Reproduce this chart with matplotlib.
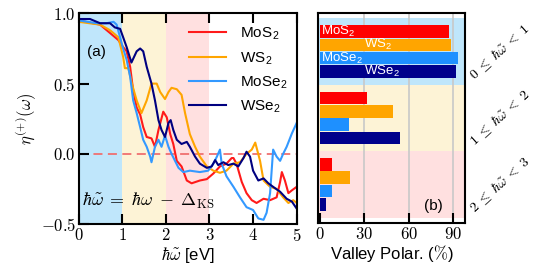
import numpy as np
import matplotlib
matplotlib.use("Agg")
import matplotlib.pyplot as plt

plt.rcParams['font.family'] = ['Liberation Sans', 'DejaVu Sans']
plt.rcParams['mathtext.fontset'] = 'cm'

# ---- panel (a) data ----
mos2_x = [0.0, 0.49, 0.72, 0.91, 1.02, 1.1, 1.18, 1.25, 1.33, 1.41, 1.48, 1.56, 1.67, 1.75, 1.83, 1.94,
          2.02, 2.1, 2.17, 2.25, 2.36, 2.48, 2.59, 2.78, 2.94, 3.09, 3.24, 3.39, 3.51, 3.55, 3.62, 3.74,
          3.85, 3.97, 4.08, 4.24, 4.39, 4.54, 4.62, 4.66, 4.73, 4.81, 4.89, 5.0]
mos2_y = [0.95, 0.92, 0.86, 0.81, 0.76, 0.73, 0.62, 0.45, 0.33, 0.28, 0.19, 0.12, 0.11, 0.05, 0.17, 0.30,
          0.26, 0.14, 0.07, -0.05, -0.09, -0.19, -0.21, -0.19, -0.18, -0.14, -0.09, -0.07, -0.03, -0.03, -0.07, -0.20,
          -0.28, -0.33, -0.35, -0.32, -0.33, -0.31, -0.20, -0.13, -0.19, -0.28, -0.26, -0.235]

ws2_x = [0.0, 0.49, 0.72, 0.91, 1.02, 1.06, 1.14, 1.22, 1.33, 1.44, 1.56, 1.67, 1.79, 1.87, 1.98, 2.06,
         2.13, 2.25, 2.36, 2.44, 2.55, 2.67, 2.78, 2.94, 3.09, 3.24, 3.39, 3.55, 3.7, 3.85, 3.97, 4.05,
         4.16, 4.24, 4.39, 4.54, 4.69, 4.81, 4.92, 5.0]
ws2_y = [0.94, 0.92, 0.88, 0.83, 0.69, 0.61, 0.61, 0.50, 0.38, 0.29, 0.38, 0.50, 0.50, 0.44, 0.39, 0.44,
         0.47, 0.46, 0.42, 0.29, 0.14, 0.05, -0.02, -0.09, -0.12, -0.135, -0.12, -0.07, -0.06, 0.0, 0.03, 0.08,
         -0.05, -0.19, -0.235, -0.25, -0.31, -0.35, -0.33, -0.35]

mose2_x = [0.0, 0.41, 0.64, 0.8, 0.87, 0.95, 1.02, 1.1, 1.18, 1.25, 1.33, 1.41, 1.48, 1.56, 1.64, 1.67,
           1.75, 1.83, 1.9, 1.98, 2.06, 2.13, 2.21, 2.29, 2.4, 2.55, 2.78, 2.97, 3.09, 3.17, 3.24, 3.28,
           3.39, 3.55, 3.7, 3.85, 4.0, 4.12, 4.24, 4.31, 4.39, 4.46, 4.54, 4.62, 4.69, 4.77, 4.89, 5.0]
mose2_y = [0.95, 0.93, 0.93, 0.94, 0.92, 0.83, 0.75, 0.67, 0.55, 0.38, 0.29, 0.19, 0.10, 0.05, -0.02, -0.06,
           0.05, 0.10, 0.05, 0.13, 0.05, 0.0, -0.05, -0.10, -0.13, -0.12, -0.13, -0.12, -0.07, -0.02, 0.03, -0.07,
           -0.16, -0.235, -0.31, -0.38, -0.40, -0.46, -0.47, -0.42, -0.28, 0.03, -0.02, -0.05, 0.0, 0.05, 0.145, 0.22]

wse2_x = [0.0, 0.26, 0.49, 0.72, 0.83, 0.95, 1.02, 1.1, 1.21, 1.27, 1.33, 1.41, 1.48, 1.56, 1.67, 1.75,
          1.83, 1.9, 1.98, 2.06, 2.11, 2.17, 2.25, 2.36, 2.48, 2.55, 2.67, 2.78, 2.94, 3.05, 3.13, 3.2,
          3.32, 3.43, 3.55, 3.66, 3.78, 3.85, 3.93, 4.0, 4.12, 4.24, 4.35, 4.46, 4.62, 4.77, 4.89, 5.0]
wse2_y = [0.96, 0.96, 0.93, 0.93, 0.90, 0.89, 0.83, 0.76, 0.65, 0.69, 0.73, 0.75, 0.73, 0.62, 0.50, 0.38,
          0.24, 0.17, 0.12, 0.22, 0.24, 0.17, 0.10, 0.07, 0.085, 0.05, -0.02, -0.07, -0.10, -0.09, -0.045, -0.08,
          -0.06, -0.08, -0.07, -0.09, -0.03, 0.015, -0.02, -0.12, -0.19, -0.175, -0.21, -0.235, -0.27, -0.32, -0.34, -0.39]

# ---- panel (b) data ----
materials = ['MoS$_\\mathregular{2}$', 'WS$_\\mathregular{2}$', 'MoSe$_\\mathregular{2}$', 'WSe$_\\mathregular{2}$']
colors = ['#ff0000', '#ffa500', '#1e90ff', '#00008b']
line_colors = ['#ff1a1a', '#ffa500', '#3399ff', '#000080']
ranges = [r'$0\;\leq\;\hbar\tilde{\omega}\;<\;1$', r'$1\;\leq\;\hbar\tilde{\omega}\;<\;2$',
          r'$2\;\leq\;\hbar\tilde{\omega}\;<\;3$']
polar_mos2 = [87.4, 31.6, 8.1]
polar_ws2 = [88.7, 49.2, 20.1]
polar_mose2 = [93.2, 19.4, 7.9]
polar_wse2 = [92.3, 54.4, 4.1]

band_colors = ['#bfe6fb', '#fdf3d6', '#ffe0e0']

fig = plt.figure(figsize=(5.4, 2.79), dpi=100)
ax = fig.add_axes([0.1457, 0.197, 0.4037, 0.755])
axb = fig.add_axes([0.589, 0.2007, 0.272, 0.753])

for i, c in enumerate(band_colors):
    ax.axvspan(i, i + 1, color=c, lw=0, zorder=0)
ax.axhline(0, color='#f07070', lw=1.3, ls=(0, (5, 3)), zorder=1)

series = [(mos2_x, mos2_y), (ws2_x, ws2_y), (mose2_x, mose2_y), (wse2_x, wse2_y)]
for (x, y), c, lab in zip(series, line_colors, materials):
    ax.plot(x, y, color=c, lw=1.5, label=lab, zorder=2)

ax.set_xlim(0, 5)
ax.set_ylim(-0.5, 1.0)
ax.set_xticks([0, 1, 2, 3, 4, 5])
ax.set_xticklabels(['$%d$' % v for v in [0, 1, 2, 3, 4, 5]], fontsize=12)
ax.set_yticks([-0.5, 0.0, 0.5, 1.0])
ax.set_yticklabels(['$-0.5$', '$0.0$', '$0.5$', '$1.0$'], fontsize=12)
ax.tick_params(direction='in', length=7, width=1.5, top=True, right=False, pad=2)
for s in ax.spines.values():
    s.set_linewidth(1.5)
ax.set_xlabel(r'$\hbar\tilde{\omega}$ [eV]', fontsize=12, labelpad=1)
ax.set_ylabel(r'$\eta^{(+)}(\omega)$', fontsize=12, labelpad=2)
ax.text(0.41, 0.727, '(a)', fontsize=11, ha='center', va='center')
ax.text(0.08, -0.335, r'$\hbar\tilde{\omega}\;=\;\hbar\omega\;-\;\Delta_{\rm KS}$', fontsize=13,
        ha='left', va='center')
leg = ax.legend(loc='upper right', bbox_to_anchor=(1.0, 0.985), frameon=False, fontsize=11,
                handlelength=2.4, handletextpad=0.9, labelspacing=0.5, borderaxespad=0.2)

# ---- panel (b) ----
vals = [polar_mos2, polar_ws2, polar_mose2, polar_wse2]
bh = 0.19
offsets = [-0.3, -0.1, 0.1, 0.3]
groups = np.arange(len(ranges))
for g in groups:
    axb.axhspan(g - 0.5, g + 0.5, color=band_colors[g], lw=0, zorder=0)
for k in range(4):
    axb.barh(groups + offsets[k], vals[k], height=bh, color=colors[k], zorder=2)
label_x = [1.0, 30.0, 1.0, 30.0]
for k in range(4):
    axb.text(label_x[k], 0 + offsets[k], materials[k], color='white', fontsize=9.5,
             ha='left', va='center', zorder=3)
for xv in [30, 60, 90]:
    axb.axvline(xv, color='#c8c8c8', lw=1.2, zorder=1)
axb.set_xlim(-1.3, 98.2)
axb.set_ylim(2.58, -0.58)
axb.set_yticks([])
axb.set_xticks([0, 30, 60, 90])
axb.set_xticklabels(['$0$', '$30$', '$60$', '$90$'], fontsize=12)
axb.tick_params(direction='in', length=7, width=1.5, pad=2)
for s in axb.spines.values():
    s.set_linewidth(1.5)
axb.set_xlabel(r'Valley Polar. ($\%$)', fontsize=12, labelpad=1)
axb.text(76.5, 2.33, '(b)', fontsize=11, ha='center', va='center')
for g in groups:
    axb.text(1.235, g, ranges[g], transform=axb.get_yaxis_transform(), rotation=42,
             fontsize=10, ha='center', va='center', clip_on=False)

fig.savefig('out.png', dpi=100)
